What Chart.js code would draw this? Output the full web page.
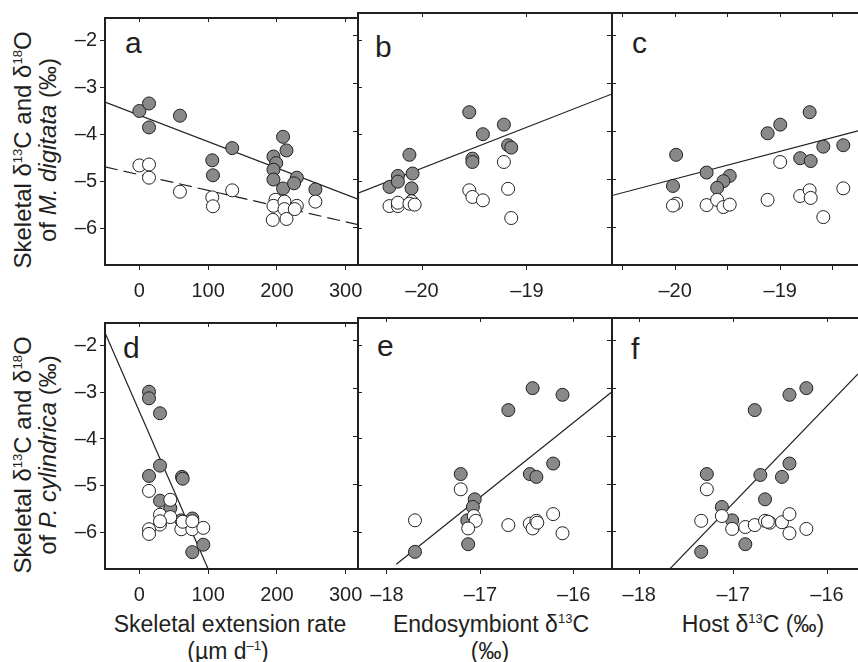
<!DOCTYPE html>
<html>
<head>
<meta charset="utf-8">
<script src="https://cdn.jsdelivr.net/npm/chart.js@4.4.1/dist/chart.umd.min.js"></script>
<style>
  body { margin: 0; background: #fff; }
  #wrap { position: relative; width: 858px; height: 662px; overflow: hidden;
          font-family: "Liberation Sans", Arial, sans-serif; color: #231f20; }
  canvas { position: absolute; }
  .t { position: absolute; font-size: 23px; white-space: nowrap; transform: translate(-50%, -50%); }
  .yt { position: absolute; font-size: 24px; white-space: nowrap; line-height: 25px; text-align: center;
        transform: translate(-50%, -50%) rotate(-90deg); }
  .lt { position: absolute; font-size: 30px; line-height: 30px; }
  sup { font-size: 13px; vertical-align: 9px; line-height: 0; }
</style>
</head>
<body>
<div id="wrap">
  <div class="yt" style="left:35px;top:150px">Skeletal δ<sup>13</sup>C and δ<sup>18</sup>O<br>of <i>M. digitata</i> (‰)</div>
  <div class="yt" style="left:35px;top:455px">Skeletal δ<sup>13</sup>C and δ<sup>18</sup>O<br>of <i>P. cylindrica</i> (‰)</div>
  <div class="t" style="left:230px;top:624px">Skeletal extension rate</div>
  <div class="t" style="left:228px;top:651px">(µm d<sup>–1</sup>)</div>
  <div class="t" style="left:491px;top:624px">Endosymbiont δ<sup>13</sup>C</div>
  <div class="t" style="left:490px;top:651px">(‰)</div>
  <div class="t" style="left:753px;top:624px">Host δ<sup>13</sup>C (‰)</div>
  <div class="lt" style="left:125px;top:28px">a</div>
  <div class="lt" style="left:375px;top:32px">b</div>
  <div class="lt" style="left:632px;top:28px">c</div>
  <div class="lt" style="left:123px;top:333px">d</div>
  <div class="lt" style="left:377px;top:331px">e</div>
  <div class="lt" style="left:631px;top:334px">f</div>
</div>
<script>
// tick values
const yTicks = [-2, -3, -4, -5, -6];
const rateTicks = [0, 100, 200, 300];
const bTicks = [-20, -19];
const cTicks = [-20.5, -20, -19.5, -19, -18.5];
const efTicks = [-18, -17, -16];

// a: M. digitata vs extension rate (filled = d13C, open = d18O)
const aFilledX = [0, 14, 14, 59, 135, 106, 107, 209, 214, 195, 199, 195, 195, 209, 229, 225, 256];
const aFilledY = [-3.50, -3.34, -3.85, -3.60, -4.29, -4.55, -4.87, -4.05, -4.34, -4.47, -4.61, -4.75, -4.96, -5.15, -4.92, -5.04, -5.17];
const aOpenX = [0, 14, 14, 59, 106, 107, 135, 198, 195, 194, 211, 211, 214, 229, 226, 256];
const aOpenY = [-4.66, -4.64, -4.92, -5.22, -5.34, -5.53, -5.19, -5.39, -5.52, -5.82, -5.43, -5.59, -5.80, -5.52, -5.59, -5.43];
const aLineX = [-50, 318];
const aLineY = [-3.31, -5.38];
const aDashY = [-4.69, -5.92];

// b: M. digitata vs endosymbiont d13C
const bFilledX = [-20.31, -20.23, -20.23, -20.12, -20.09, -20.10, -19.55, -19.42, -19.52, -19.52, -19.22, -19.18, -19.15];
const bFilledY = [-5.15, -4.92, -5.04, -4.48, -4.87, -5.18, -3.59, -4.05, -4.56, -4.63, -3.85, -4.28, -4.33];
const bOpenX = [-20.31, -20.23, -20.23, -20.10, -20.12, -20.07, -19.55, -19.52, -19.42, -19.22, -19.18, -19.15];
const bOpenY = [-5.55, -5.55, -5.48, -5.45, -5.50, -5.52, -5.22, -5.36, -5.43, -4.63, -5.19, -5.80];
const bLineX = [-20.61, -18.19];
const bLineY = [-5.28, -3.21];

// c: M. digitata vs host d13C
const cFilledX = [-19.99, -20.02, -19.70, -19.48, -19.54, -19.60, -19.12, -19.00, -18.72, -18.81, -18.71, -18.59, -18.40];
const cFilledY = [-4.48, -5.13, -4.85, -4.92, -5.03, -5.17, -4.03, -3.85, -3.59, -4.55, -4.61, -4.31, -4.28];
const cOpenX = [-19.99, -20.02, -19.70, -19.60, -19.54, -19.48, -19.12, -19.00, -18.81, -18.72, -18.71, -18.59, -18.40];
const cOpenY = [-5.50, -5.54, -5.53, -5.42, -5.57, -5.52, -5.42, -4.63, -5.34, -5.22, -5.38, -5.78, -5.18];
const cLineX = [-20.60, -18.26];
const cLineY = [-5.33, -3.98];

// d: P. cylindrica vs extension rate
const dFilledX = [14, 14, 30, 30, 14, 62, 63, 30, 45, 61, 77, 77, 93];
const dFilledY = [-2.99, -3.13, -3.45, -4.57, -4.79, -4.81, -4.85, -5.32, -5.48, -5.74, -5.70, -6.42, -6.26];
const dOpenX = [14, 45, 30, 45, 30, 14, 14, 61, 77, 93, 63, 77, 30];
const dOpenY = [-5.11, -5.30, -5.62, -5.67, -5.83, -5.93, -6.03, -5.93, -5.93, -5.90, -5.77, -5.76, -5.76];
const dLineX = [-50, 100.3];
const dLineY = [-1.73, -6.79];

// e: P. cylindrica vs endosymbiont d13C
const eFilledX = [-17.70, -17.21, -17.06, -17.08, -17.14, -17.13, -16.70, -16.44, -16.12, -16.47, -16.40, -16.22];
const eFilledY = [-6.42, -4.79, -5.32, -5.48, -5.76, -6.26, -3.45, -2.99, -3.13, -4.79, -4.85, -4.57];
const eOpenX = [-17.70, -17.21, -17.07, -17.05, -17.13, -16.70, -16.47, -16.44, -16.40, -16.39, -16.22, -16.12];
const eOpenY = [-5.76, -5.11, -5.67, -5.77, -5.93, -5.86, -5.83, -5.93, -5.77, -5.81, -5.63, -6.03];
const eLineX = [-17.90, -15.60];
const eLineY = [-6.68, -3.08];

// f: P. cylindrica vs host d13C
const fFilledX = [-17.34, -17.28, -17.12, -17.01, -16.87, -16.77, -16.71, -16.66, -16.48, -16.40, -16.40, -16.22];
const fFilledY = [-6.42, -4.79, -5.48, -5.76, -6.26, -3.45, -4.81, -5.32, -4.85, -4.57, -3.13, -2.99];
const fOpenX = [-17.34, -17.28, -17.12, -17.01, -16.87, -16.77, -16.66, -16.61, -16.48, -16.40, -16.40, -16.22, -16.63];
const fOpenY = [-5.77, -5.11, -5.67, -5.94, -5.90, -5.86, -5.77, -5.81, -5.80, -5.63, -6.03, -5.94, -5.79];
const fLineX = [-17.68, -15.67];
const fLineY = [-6.79, -2.69];

const ink = '#231f20';
const grey = '#898989';
const font = { family: '"Liberation Sans", Arial, sans-serif', size: 20 };

const pts = (xs, ys) => xs.map((x, i) => ({ x: x, y: ys[i] }));
const fmt = v => Number.isInteger(v) ? String(v).replace('-', '–') : '';

function line(xs, ys, dash) {
  return { data: pts(xs, ys), showLine: true, pointRadius: 0, borderColor: ink,
           borderWidth: 1.2, borderDash: dash || [], order: 3 };
}
function dots(xs, ys, fill, order) {
  return { data: pts(xs, ys), pointRadius: 6.5, pointHoverRadius: 6.5, backgroundColor: fill,
           borderColor: ink, borderWidth: 1, order: order };
}

const panels = [
  { box: [105, 13, 358, 265], x: [-50, 318], xt: rateTicks, yLab: true, right: true,
    ds: [line(aLineX, aLineY), line(aLineX, aDashY, [13, 6]), dots(aFilledX, aFilledY, grey, 2), dots(aOpenX, aOpenY, '#fff', 1)] },
  { box: [358, 13, 612, 265], x: [-20.61, -18.19], xt: bTicks, yLab: false, right: true,
    ds: [line(bLineX, bLineY), dots(bFilledX, bFilledY, grey, 2), dots(bOpenX, bOpenY, '#fff', 1)] },
  { box: [612, 13, 858, 265], x: [-20.60, -18.26], xt: cTicks, yLab: false, right: false,
    ds: [line(cLineX, cLineY), dots(cFilledX, cFilledY, grey, 2), dots(cOpenX, cOpenY, '#fff', 1)] },
  { box: [105, 318, 358, 569], x: [-50, 318], xt: rateTicks, yLab: true, right: true,
    ds: [line(dLineX, dLineY), dots(dFilledX, dFilledY, grey, 2), dots(dOpenX, dOpenY, '#fff', 1)] },
  { box: [358, 318, 612, 569], x: [-18.31, -15.59], xt: efTicks, yLab: false, right: true,
    ds: [line(eLineX, eLineY), dots(eFilledX, eFilledY, grey, 2), dots(eOpenX, eOpenY, '#fff', 1)] },
  { box: [612, 318, 858, 569], x: [-18.29, -15.67], xt: efTicks, yLab: false, right: false,
    ds: [line(fLineX, fLineY), dots(fFilledX, fFilledY, grey, 2), dots(fOpenX, fOpenY, '#fff', 1)] }
];

const wrap = document.getElementById('wrap');

panels.forEach(p => {
  const [L, T, R, B] = p.box;
  const ml = p.yLab ? 70 : 20, mr = 25, mt = 10, mb = 45;
  const cv = document.createElement('canvas');
  cv.width = R - L + ml + mr;
  cv.height = B - T + mt + mb;
  cv.style.left = (L - ml) + 'px';
  cv.style.top = (T - mt) + 'px';
  wrap.appendChild(cv);

  const xTickSet = s => { s.ticks = p.xt.map(v => ({ value: v })); };
  const yTickSet = s => { s.ticks = yTicks.map(v => ({ value: v })); };

  new Chart(cv, {
    type: 'scatter',
    data: { datasets: p.ds },
    options: {
      responsive: false,
      animation: false,
      devicePixelRatio: 1,
      layout: { padding: { top: mt, right: mr, left: 0, bottom: 0 } },
      plugins: { legend: { display: false }, tooltip: { enabled: false } },
      events: [],
      scales: {
        x: {
          type: 'linear', position: 'bottom', min: p.x[0], max: p.x[1],
          afterBuildTicks: xTickSet,
          afterFit: s => { s.height = mb; },
          ticks: { callback: fmt, font: font, color: ink, padding: 9, maxRotation: 0, autoSkip: false },
          grid: { drawOnChartArea: false, tickLength: 5, color: ink },
          border: { color: ink, width: 2 }
        },
        xTop: {
          type: 'linear', position: 'top', min: p.x[0], max: p.x[1],
          afterBuildTicks: xTickSet,
          afterFit: s => { s.height = 0; },
          ticks: { display: false },
          grid: { drawOnChartArea: false, tickLength: -4, color: ink },
          border: { color: ink, width: 2 }
        },
        y: {
          type: 'linear', position: 'left', min: -6.78, max: -1.52,
          afterBuildTicks: yTickSet,
          afterFit: s => { s.width = ml; },
          ticks: { display: p.yLab, callback: fmt, font: font, color: ink, padding: 3 },
          grid: { drawOnChartArea: false, tickLength: 5, color: ink },
          border: { color: ink, width: 2 }
        },
        yRight: {
          type: 'linear', position: 'right', min: -6.78, max: -1.52, display: p.right,
          afterBuildTicks: yTickSet,
          afterFit: s => { s.width = 0; },
          ticks: { display: false },
          grid: { drawOnChartArea: false, tickLength: 4, color: ink },
          border: { color: ink, width: 2 }
        }
      }
    }
  });
});
</script>
</body>
</html>
